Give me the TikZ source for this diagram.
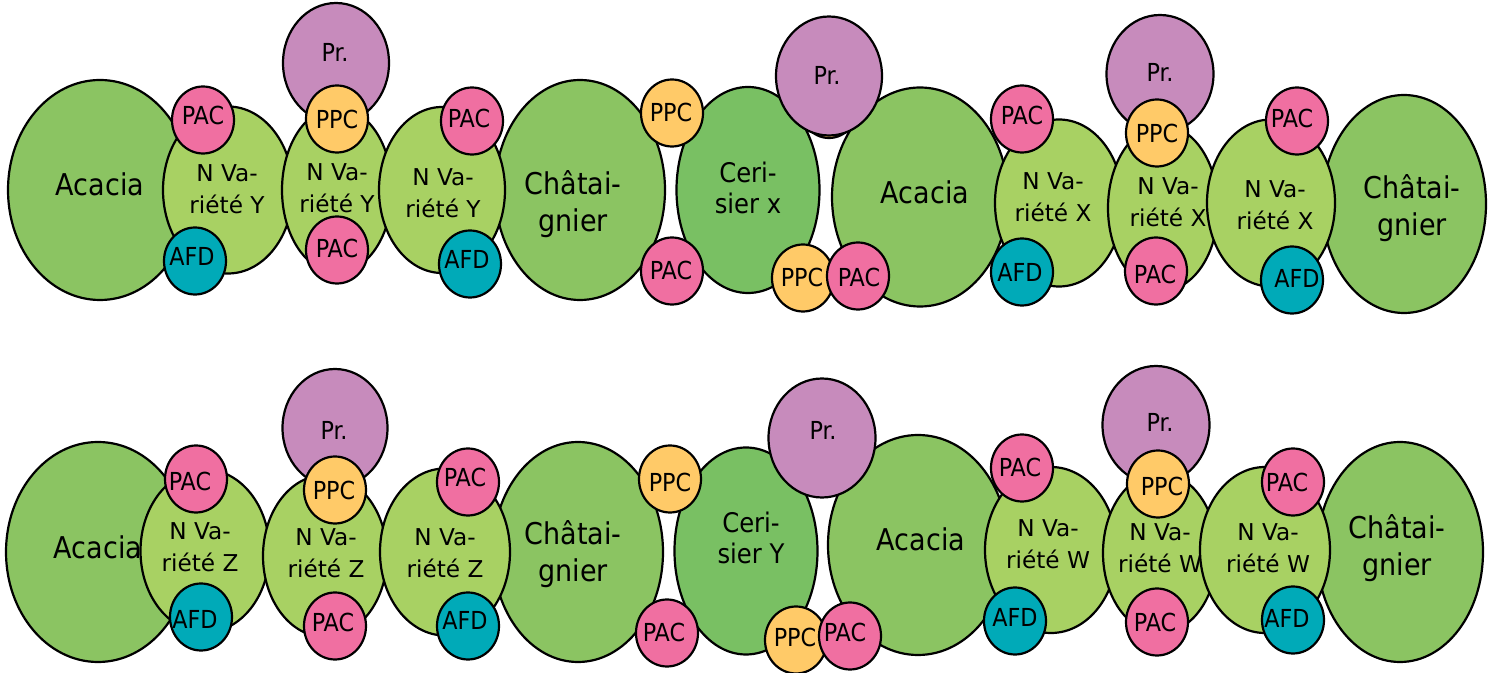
\documentclass[tikz,border=0pt]{standalone}
\usepackage{fontspec}
\setmainfont{DejaVu Sans Condensed}
\newfontfamily\nvfont{DejaVu Sans}
\usetikzlibrary{shapes.geometric}
\definecolor{treegreen}{HTML}{8BC462}
\definecolor{nvgreen}{HTML}{A8D163}
\definecolor{cerigreen}{HTML}{79C063}
\definecolor{pacpink}{HTML}{F06FA1}
\definecolor{ppcyellow}{HTML}{FFCA68}
\definecolor{afdteal}{HTML}{00AAB8}
\definecolor{prpurple}{HTML}{C78BBC}
\tikzset{
  base/.style={ellipse, draw=black, line width=1.1pt, inner sep=0pt},
  tree/.style={base, fill=treegreen},
  nv/.style={base, fill=nvgreen},
  ceri/.style={base, fill=cerigreen},
  pac/.style={base, fill=pacpink},
  ppc/.style={base, fill=ppcyellow},
  afd/.style={base, fill=afdteal},
  pr/.style={base, fill=prpurple},
  treetxt/.style={align=center, inner sep=0pt, font=\fontsize{15}{18.5}\selectfont},
  nvtxt/.style={align=center, inner sep=0pt, font=\nvfont\fontsize{11.6}{16}\selectfont},
  ceritxt/.style={align=center, inner sep=0pt, font=\fontsize{13.5}{15.5}\selectfont},
  smalltxt/.style={align=center, inner sep=0pt, font=\fontsize{12.4}{15}\selectfont},
  prtxt/.style={smalltxt},
}
\newcommand\myblob[9]{%
  \node[#2, minimum width=#5*0.5pt, minimum height=#6*0.5pt] (#1) at (#3,#4) {};
  \node[#2txt] (#1t) at (#7,#8) {#9};}
\newcommand\mysmall[7]{%
  \node[#2, minimum width=31pt, minimum height=33.5pt] (#1) at (#3,#4) {};
  \node[smalltxt] (#1t) at (#5,#6) {#7};}
\begin{document}
\begin{tikzpicture}[x=0.5pt,y=-0.5pt]
\useasboundingbox (0,0) rectangle (1496,673);
% ---------- Row 1 ----------
\myblob{acaA}{tree}{100}{190}{184}{220}{100}{184}{Acacia}
\myblob{chatA}{tree}{580}{190}{170}{220}{573}{204}{Châtai-\\gnier}
\myblob{acaB}{tree}{920}{197}{176}{219}{925}{192}{Acacia}
\myblob{chatB}{tree}{1404}{204}{164}{218}{1412}{208}{Châtai-\\gnier}
\myblob{nvYa}{nv}{228}{190}{130}{167}{227}{189}{N Va-\\riété Y}
\myblob{nvYb}{nv}{337}{190}{110}{165}{337}{188}{N Va-\\riété Y}
\myblob{nvYc}{nv}{442}{190}{126}{166}{443}{193}{N Va-\\riété Y}
\myblob{nvXa}{nv}{1059}{203}{128}{167}{1053}{197}{N Va-\\riété X}
\myblob{nvXb}{nv}{1163}{208}{110}{165}{1168}{202}{N Va-\\riété X}
\myblob{nvXc}{nv}{1271}{203}{128}{167}{1275}{205}{N Va-\\riété X}
\myblob{ceriX}{ceri}{748}{190}{143}{206}{748}{188}{Ceri-\\sier x}
\myblob{prA}{pr}{336}{63}{106}{120}{335}{52}{Pr.}
\node[ppc, minimum width=30pt, minimum height=34pt] (ppcH) at (829,104) {};
\myblob{prB}{pr}{829}{76}{106}{119}{827}{75}{Pr.}
\myblob{prC}{pr}{1160}{74}{107}{118}{1160}{72}{Pr.}
\mysmall{pacA1}{pac}{203}{120}{203}{115}{PAC}
\mysmall{afdA1}{afd}{195}{261}{192}{256}{AFD}
\mysmall{ppcA1}{ppc}{337}{119}{337}{119}{PPC}
\mysmall{pacA2}{pac}{337}{250}{337}{248}{PAC}
\mysmall{pacA3}{pac}{472}{121}{469}{118}{PAC}
\mysmall{afdA3}{afd}{470}{264}{467}{259}{AFD}
\mysmall{ppcA2}{ppc}{672}{113}{671}{112}{PPC}
\mysmall{pacA4}{pac}{672}{271}{671}{270}{PAC}
\mysmall{ppcA3}{ppc}{803}{278}{802}{277}{PPC}
\mysmall{pacA5}{pac}{858}{276}{859}{277}{PAC}
\mysmall{pacA6}{pac}{1022}{119}{1022}{115}{PAC}
\mysmall{afdA6}{afd}{1022}{272}{1020}{272}{AFD}
\mysmall{ppcA6}{ppc}{1157}{133}{1157}{133}{PPC}
\mysmall{pacA7}{pac}{1156}{271}{1155}{274}{PAC}
\mysmall{pacA8}{pac}{1297}{121}{1292}{118}{PAC}
\mysmall{afdA8}{afd}{1292}{280}{1297}{278}{AFD}
% ---------- Row 2 ----------
\myblob{acaC}{tree}{98}{552}{184}{220}{98}{547}{Acacia}
\myblob{chatC}{tree}{578}{552}{170}{220}{573}{554}{Châtai-\\gnier}
\myblob{acaD}{tree}{918}{545}{180}{220}{921}{539}{Acacia}
\myblob{chatD}{tree}{1400}{552}{166}{220}{1397}{548}{Châtai-\\gnier}
\myblob{nvZa}{nv}{205}{551}{129}{163}{200}{547}{N Va-\\riété Z}
\myblob{nvZb}{nv}{325}{556}{124}{162}{326}{553}{N Va-\\riété Z}
\myblob{nvZc}{nv}{445}{552}{130}{167}{445}{553}{N Va-\\riété Z}
\myblob{nvWa}{nv}{1051}{550}{132}{166}{1048}{544}{N Va-\\riété W}
\myblob{nvWb}{nv}{1160}{553}{114}{160}{1160}{548}{N Va-\\riété W}
\myblob{nvWc}{nv}{1265}{550}{130}{166}{1268}{548}{N Va-\\riété W}
\myblob{ceriY}{ceri}{746}{551}{143}{207}{751}{538}{Ceri-\\sier Y}
\myblob{prD}{pr}{335}{428}{105}{118}{334}{430}{Pr.}
\myblob{prE}{pr}{822}{438}{107}{119}{823}{430}{Pr.}
\myblob{prF}{pr}{1156}{425}{107}{118}{1160}{422}{Pr.}
\mysmall{pacB1}{pac}{196}{479}{190}{481}{PAC}
\mysmall{afdB1}{afd}{201}{617}{195}{619}{AFD}
\mysmall{ppcB1}{ppc}{335}{490}{334}{490}{PPC}
\mysmall{pacB2}{pac}{335}{626}{333}{622}{PAC}
\mysmall{pacB3}{pac}{468}{482}{465}{477}{PAC}
\mysmall{afdB3}{afd}{468}{626}{465}{620}{AFD}
\mysmall{ppcB2}{ppc}{670}{479}{670}{482}{PPC}
\mysmall{pacB4}{pac}{667}{633}{664}{632}{PAC}
\mysmall{ppcB3}{ppc}{796}{640}{795}{637}{PPC}
\mysmall{pacB5}{pac}{850}{636}{845}{632}{PAC}
\mysmall{pacB6}{pac}{1022}{468}{1020}{467}{PAC}
\mysmall{afdB6}{afd}{1015}{621}{1015}{617}{AFD}
\mysmall{ppcB6}{ppc}{1158}{484}{1162}{486}{PPC}
\mysmall{pacB7}{pac}{1157}{622}{1155}{622}{PAC}
\mysmall{pacB8}{pac}{1293}{482}{1287}{482}{PAC}
\mysmall{afdB8}{afd}{1293}{620}{1287}{618}{AFD}
\end{tikzpicture}
\end{document}
